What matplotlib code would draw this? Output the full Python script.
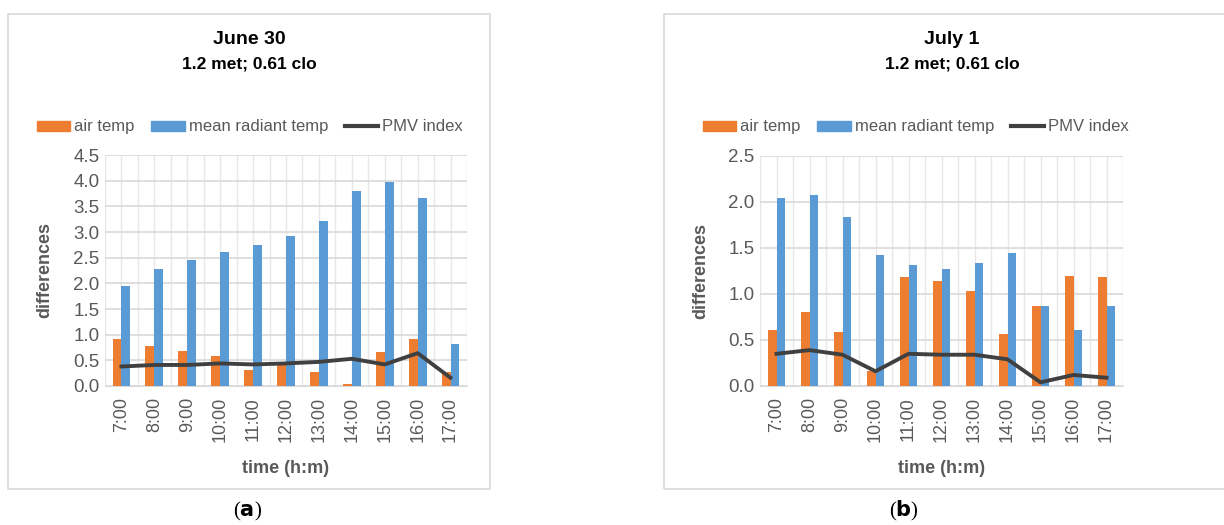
import numpy as np
import matplotlib
matplotlib.use("Agg")
import matplotlib.pyplot as plt
from matplotlib.patches import Rectangle, Patch
from matplotlib.lines import Line2D

plt.rcParams['font.family'] = ['Liberation Sans', 'DejaVu Sans']

# data
hours = ['7:00', '8:00', '9:00', '10:00', '11:00', '12:00', '13:00', '14:00', '15:00', '16:00', '17:00']

june_air = [0.91, 0.77, 0.69, 0.59, 0.32, 0.44, 0.27, 0.03, 0.67, 0.92, 0.27]
june_mrt = [1.95, 2.27, 2.45, 2.61, 2.75, 2.92, 3.21, 3.79, 3.98, 3.66, 0.82]
june_pmv = [0.38, 0.41, 0.41, 0.44, 0.42, 0.44, 0.47, 0.53, 0.42, 0.64, 0.16]

july_air = [0.61, 0.80, 0.59, 0.16, 1.18, 1.14, 1.03, 0.57, 0.87, 1.20, 1.19]
july_mrt = [2.04, 2.08, 1.84, 1.42, 1.32, 1.27, 1.34, 1.45, 0.87, 0.61, 0.87]
july_pmv = [0.35, 0.39, 0.34, 0.16, 0.35, 0.34, 0.34, 0.29, 0.04, 0.12, 0.09]

orange = '#ED7D31'
blue = '#5B9BD5'
dark = '#404040'
grey_txt = '#595959'
grid_c = '#E8E8E8'

W, H = 1224, 525
fig = plt.figure(figsize=(W/100, H/100), dpi=100)

def px(x, y, w, h):
    # pixel box (top-left origin) -> figure fraction
    return [x/W, 1 - (y + h)/H, w/W, h/H]

def panel(box, axbox, title, air, mrt, pmv, ymax, leg_x, tag, tag_x):
    # chart border
    r = Rectangle((box[0]/W, 1 - box[3]/H), (box[2]-box[0])/W, (box[3]-box[1])/H,
                  transform=fig.transFigure, fill=False, edgecolor='#D9D9D9', lw=1.2)
    fig.patches.append(r)
    cx = (box[0] + box[2]) / 2
    ax = fig.add_axes(px(*axbox))
    x = np.arange(len(hours))
    w = 0.27
    ax.bar(x - w/2, air, w, color=orange, zorder=3, label='air temp')
    ax.bar(x + w/2, mrt, w, color=blue, zorder=3, label='mean radiant temp')
    ax.plot(x, pmv, color=dark, lw=2.8, zorder=4, label='PMV index')
    ax.set_xlim(-0.5, len(hours) - 0.5)
    ax.set_ylim(0, ymax)
    ax.set_yticks(np.arange(0, ymax + 0.01, 0.5))
    ax.set_yticklabels(['%.1f' % v for v in np.arange(0, ymax + 0.01, 0.5)])
    ax.set_xticks(x)
    ax.set_xticklabels(hours, rotation=90)
    for v in np.arange(-0.5, len(hours), 0.5):
        ax.axvline(v, color=grid_c, lw=1, zorder=0)
    ax.yaxis.grid(True, color='#D9D9D9', lw=1.2, zorder=0)
    ax.set_axisbelow(True)
    for s in ['top', 'right', 'left']:
        ax.spines[s].set_visible(False)
    ax.spines['bottom'].set_color('#D9D9D9')
    ax.tick_params(length=0, labelsize=13.5, colors=grey_txt, pad=4)
    ax.tick_params(axis='x', labelsize=13, pad=8)
    ax.set_ylabel('differences', fontsize=13, fontweight='bold', color=grey_txt, labelpad=14)
    ax.set_xlabel('time (h:m)', fontsize=13, fontweight='bold', color=grey_txt, labelpad=13)
    fig.text(cx / W, 1 - 40/H, title, ha='center', va='center', fontsize=14, fontweight='bold')
    fig.text(cx / W, 1 - 64/H, '1.2 met; 0.61 clo', ha='center', va='center',
             fontsize=12.5, fontweight='bold')
    handles = [Patch(color=orange), Patch(color=blue), Line2D([], [], color=dark, lw=3)]
    fig.legend(handles, ['air temp', 'mean radiant temp', 'PMV index'], ncol=3,
               loc='center', bbox_to_anchor=(leg_x / W, 1 - 127/H), frameon=False,
               fontsize=12, handlelength=2.0, handleheight=0.55, handletextpad=0.25,
               columnspacing=1.0, labelcolor=grey_txt, borderpad=0.2)
    fig.text(tag_x / W, 1 - 511/H, tag, ha='center', va='center', fontsize=15,
             family='Liberation Serif')
    return ax

panel((8, 14, 490, 489), (105, 155, 362, 231), 'June 30', june_air, june_mrt, june_pmv, 4.5,
      250, r'($\mathbf{a}$)', 248)
panel((664, 14, 1240, 489), (760, 156, 363, 230), 'July 1', july_air, july_mrt, july_pmv, 2.5,
      916, r'($\mathbf{b}$)', 904)

fig.savefig('out.png', dpi=100)
